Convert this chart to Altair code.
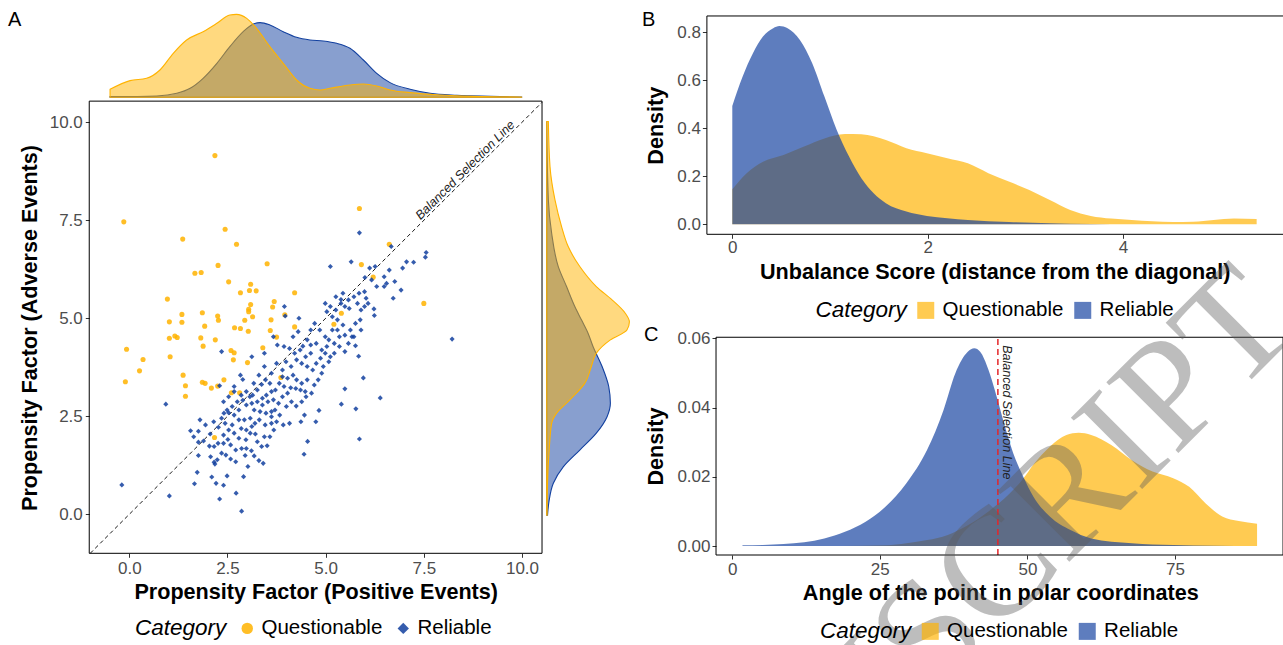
import altair as alt
import pandas as pd

CATS = ["Questionable", "Reliable"]
YEL = "#FFB300"
BLU = "#12409F"
RED = "#E4262A"
FONT = "Liberation Sans"

# ---------------- Panel A : scatter values ----------------
q_x = [2.18, -0.14, 2.44, 1.36, 2.73, 5.86, 6.62, 2.26, 3.51, 1.67, 1.83, 5.91, 6.21, 2.53, 3.09,
       3.06, 3.23, 2.83, 4.21, 0.97, 3.69, 7.50, 3.09, 3.65, 3.04, 3.04, 1.86, 1.34, 3.96, 2.25,
       5.40, 3.14, 2.27, 2.94, 3.61, 1.02, 1.34, 5.21, 1.92, 2.68, 2.83, 4.21, 3.59, 3.03, 3.75,
       1.16, 1.22, 1.02, 1.82, 2.19, 1.88, 3.40, -0.07, 2.59, 2.67, 0.35, 1.04, 2.65, 3.01, 0.26,
       1.37, 3.86, 2.41, -0.10, 1.86, 1.93, 1.43, 2.25, 2.09, 2.60, 2.81, 1.43, 2.17]
q_y = [9.15, 7.46, 7.27, 7.02, 6.89, 7.80, 6.89, 6.35, 6.39, 6.15, 6.17, 6.37, 6.05, 5.93, 5.87,
       5.71, 5.70, 5.65, 5.65, 5.49, 5.43, 5.38, 5.35, 5.29, 5.23, 5.17, 5.14, 5.10, 5.09, 5.06,
       5.13, 5.04, 4.95, 4.95, 4.96, 4.91, 4.90, 4.85, 4.80, 4.76, 4.74, 4.78, 4.69, 4.67, 4.52,
       4.55, 4.51, 4.49, 4.50, 4.45, 4.29, 4.25, 4.21, 4.18, 4.12, 3.95, 4.02, 3.94, 3.87, 3.66,
       3.55, 3.49, 3.43, 3.38, 3.37, 3.34, 3.28, 3.27, 3.22, 3.10, 3.10, 3.01, 1.96]

r_x = [-0.19, 1.02, 0.93, 8.22, 5.86, 6.39, 5.86, 5.77, 5.49, 5.40, 5.96, 5.84, 5.76, 4.45, 4.54,
       4.75, 4.83, 4.46, 4.37, 2.86, 2.30, 2.72, 1.66, 2.10, 2.21, 2.40, 2.49, 2.91, 1.73, 1.76,
       2.07, 2.16, 2.18, 2.24, 2.35, 2.46, 2.58, 2.71, 2.86, 2.95, 3.02, 3.11, 3.18, 3.30, 3.41,
       3.37, 3.51, 3.58, 1.56, 1.76, 1.64, 1.89, 2.04, 2.16, 1.76, 2.06, 2.40, 2.51, 2.67, 2.79,
       2.97, 3.08, 3.21, 2.62, 2.53, 2.44, 2.27, 2.15, 2.35, 2.41, 2.53, 2.67, 2.79, 2.93, 3.08,
       3.20, 3.31, 3.46, 3.62, 3.75, 3.92, 4.08, 3.68, 3.83, 4.00, 4.13, 4.25, 4.39, 4.50, 4.64,
       4.48, 4.36, 4.24, 4.11, 3.94, 3.82, 3.72, 3.58, 3.47, 3.37, 3.26, 3.14, 2.98, 2.85, 2.75,
       2.62, 2.49, 2.79, 2.98, 3.12, 3.26, 3.39, 3.53, 3.67, 3.80, 3.18, 3.33, 3.48, 3.62, 3.07,
       3.17, 3.30, 3.44, 3.62, 3.75, 3.90, 3.99, 4.12, 4.26, 4.39, 4.53, 4.67, 4.76, 4.87, 4.99,
       5.12, 5.22, 4.94, 5.08, 4.62, 4.49, 4.35, 4.21, 4.08, 3.94, 3.77, 3.44, 3.12, 2.35, 2.30,
       2.83, 2.89, 4.17, 4.30, 4.32, 3.95, 4.72, 4.85, 4.99, 5.08, 5.22, 5.35, 5.49, 5.63, 5.76,
       5.88, 5.90, 5.67, 5.44, 5.30, 5.17, 5.03, 4.99, 5.12, 5.26, 5.39, 5.39, 5.49, 5.60, 5.58,
       5.72, 5.85, 5.99, 6.03, 6.08, 5.99, 6.23, 6.24, 6.30, 6.17, 6.49, 6.55, 6.62, 6.76, 6.49,
       6.72, 6.92, 6.96, 7.06, 7.24, 7.56, 7.54, 6.67, 6.26, 6.12, 6.00, 5.65, 5.12, 3.97, 4.62,
       4.53, 4.42, 3.67, 2.89, 2.67, 2.53, 2.40, 2.67, 4.90, 4.81, 4.71, 4.53, 4.39, 4.26, 4.17,
       4.03, 3.90, 3.62, 3.49, 3.39, 3.62, 3.71, 3.90, 4.03, 5.30, 5.17, 5.35, 5.49, 5.58, 5.72,
       4.90, 5.03, 4.76, 4.62, 5.26, 5.44, 5.81, 5.90, 1.94, 1.80, 2.26, 2.40, 2.58, 2.71, 2.98,
       3.26, 3.44, 2.85, 2.98, 3.12]
r_y = [0.75, 0.47, 2.81, 4.47, 7.18, 2.97, 1.92, 2.69, 3.20, 2.81, 3.48, 4.03, 4.30, 1.53, 1.86,
       2.36, 2.65, 2.53, 2.36, 0.08, 0.39, 0.54, 0.78, 0.95, 0.79, 0.74, 0.98, 0.96, 1.07, 1.50,
       1.47, 1.33, 1.28, 1.39, 1.56, 1.51, 1.41, 1.34, 1.68, 1.50, 1.22, 1.62, 1.49, 1.37, 1.30,
       1.73, 1.75, 1.98, 2.13, 2.12, 1.98, 1.87, 1.74, 1.73, 1.84, 2.05, 2.02, 1.91, 2.07, 1.94,
       1.90, 2.07, 2.05, 2.28, 2.15, 2.32, 2.22, 2.36, 2.45, 2.58, 2.59, 2.53, 2.41, 2.41, 2.45,
       2.32, 2.41, 2.28, 2.32, 2.36, 2.28, 2.32, 2.15, 2.53, 2.75, 2.87, 2.76, 2.87, 3.00, 3.09,
       3.13, 3.17, 3.21, 3.23, 3.26, 3.34, 3.17, 3.34, 3.43, 3.31, 3.17, 3.04, 3.13, 3.04, 2.87,
       2.75, 2.66, 2.66, 2.79, 2.83, 2.87, 2.79, 2.87, 2.92, 2.83, 2.66, 2.62, 2.58, 2.62, 3.00,
       3.34, 3.55, 3.77, 3.60, 3.85, 3.68, 3.89, 3.77, 3.94, 3.85, 3.77, 3.68, 3.85, 3.98, 4.11,
       4.02, 4.11, 3.77, 3.89, 4.11, 4.02, 4.19, 4.11, 4.23, 4.28, 4.32, 4.11, 4.02, 4.15, 3.28,
       3.55, 3.44, 4.53, 4.66, 5.00, 5.30, 4.87, 4.70, 4.53, 4.45, 4.36, 4.53, 4.57, 4.70, 4.87,
       4.96, 4.70, 4.53, 4.83, 4.96, 5.04, 5.17, 5.38, 5.30, 5.21, 5.38, 5.48, 5.30, 5.25, 5.47,
       5.55, 5.64, 5.68, 5.51, 5.38, 5.30, 5.24, 5.07, 5.81, 5.98, 6.06, 5.89, 6.23, 5.94, 5.81,
       5.51, 5.72, 6.28, 6.44, 6.43, 6.68, 6.56, 6.83, 6.32, 6.28, 6.04, 6.44, 6.32, 5.06, 4.70,
       4.45, 4.29, 4.53, 2.91, 3.26, 3.00, 2.87, 3.13, 3.60, 3.43, 3.30, 3.43, 3.34, 3.43, 3.55,
       3.47, 3.51, 3.13, 3.04, 2.96, 2.49, 2.66, 3.00, 3.09, 4.70, 4.70, 4.28, 4.15, 4.36, 4.53,
       4.19, 4.28, 4.36, 4.32, 5.55, 5.64, 5.38, 5.21, 2.28, 2.41, 1.81, 1.81, 1.77, 1.64, 1.68,
       1.85, 1.98, 2.19, 2.15, 2.24]

diag_v = [-0.995, 10.51]

# marginal densities (relative height)
top_q_x = [-0.49, 0.02, 0.44, 0.78, 1.12, 1.46, 1.88, 2.23, 2.56, 2.73, 2.99, 3.24, 3.58, 3.92,
           4.26, 4.60, 4.86, 5.11, 5.62, 5.96, 6.30, 6.64, 7.15, 7.91, 8.76, 9.99]
top_q_d = [0.096, 0.20, 0.228, 0.328, 0.528, 0.688, 0.788, 0.888, 0.988, 0.996, 0.948, 0.828,
           0.608, 0.408, 0.208, 0.108, 0.088, 0.108, 0.148, 0.16, 0.136, 0.088, 0.056, 0.028,
           0.012, 0.004]
top_r_x = [-0.49, 0.70, 1.21, 1.55, 1.88, 2.23, 2.56, 2.90, 3.16, 3.33, 3.58, 3.92, 4.26, 4.60,
           4.94, 5.28, 5.62, 5.96, 6.30, 6.64, 7.15, 7.66, 8.34, 9.19, 9.99]
top_r_d = [0.008, 0.016, 0.048, 0.108, 0.228, 0.408, 0.608, 0.788, 0.88, 0.896, 0.868, 0.788,
           0.72, 0.688, 0.676, 0.648, 0.588, 0.448, 0.288, 0.176, 0.096, 0.048, 0.024, 0.012,
           0.004]
rgt_q_y = [10.02, 8.87, 8.02, 7.34, 6.83, 6.32, 5.81, 5.47, 5.13, 4.91, 4.70, 4.45, 4.11, 3.77,
           3.34, 2.92, 2.58, 2.32, 1.64, 0.79, -0.02]
rgt_q_d = [0.02, 0.04, 0.10, 0.18, 0.26, 0.40, 0.60, 0.79, 0.95, 1.0, 0.97, 0.77, 0.60, 0.54,
           0.46, 0.28, 0.12, 0.06, 0.03, 0.01, 0.005]
rgt_r_y = [10.02, 8.02, 7.17, 6.32, 5.81, 5.30, 4.96, 4.62, 4.28, 3.77, 3.26, 2.83, 2.49, 2.07,
           1.64, 1.21, 0.79, 0.36, -0.02]
rgt_r_d = [0.0, 0.02, 0.06, 0.14, 0.24, 0.34, 0.42, 0.50, 0.56, 0.67, 0.75, 0.77, 0.73, 0.60,
           0.40, 0.20, 0.08, 0.03, 0.01]

# ---------------- Panel B : unbalance score densities ----------------
b_r_x = [0, 0.105, 0.21, 0.314, 0.419, 0.482, 0.566, 0.692, 0.818, 0.943, 1.069, 1.195, 1.321,
         1.447, 1.572, 1.782, 1.992, 2.201, 2.411, 2.83, 3.25, 3.669, 4.088, 4.507, 5.367]
b_r_d = [0.493, 0.615, 0.712, 0.782, 0.817, 0.826, 0.817, 0.768, 0.671, 0.532, 0.393, 0.282,
         0.192, 0.129, 0.0875, 0.053, 0.035, 0.025, 0.018, 0.0097, 0.004, 0.0014, 0.0005,
         0.0002, 0.0]
b_q_x = [0, 0.147, 0.314, 0.524, 0.734, 0.943, 1.153, 1.321, 1.572, 1.782, 1.992, 2.201, 2.411,
         2.621, 2.83, 3.04, 3.25, 3.459, 3.669, 3.878, 4.088, 4.298, 4.507, 4.717, 4.927,
         5.136, 5.367]
b_q_d = [0.146, 0.213, 0.261, 0.289, 0.324, 0.358, 0.376, 0.375, 0.351, 0.317, 0.296, 0.275,
         0.254, 0.213, 0.178, 0.143, 0.101, 0.060, 0.035, 0.024, 0.018, 0.0125, 0.0097, 0.011,
         0.018, 0.024, 0.022]

# ---------------- Panel C : angle densities ----------------
c_r_x = [1.74, 5.2, 8.7, 12.2, 15.6, 19.1, 22.6, 26.0, 29.5, 33.0, 35.8, 37.8, 39.9, 41.0, 42.0,
         43.4, 44.8, 46.2, 47.6, 49.3, 51.0, 53.8, 57.3, 60.8, 67.7, 74.7, 81.6, 88.9]
c_r_d = [0.0002, 0.0003, 0.0006, 0.0011, 0.0022, 0.0041, 0.0070, 0.0114, 0.0181, 0.0277,
         0.0393, 0.0499, 0.0561, 0.0571, 0.0561, 0.0509, 0.0431, 0.0345, 0.0268, 0.0200,
         0.0143, 0.0085, 0.0046, 0.0022, 0.0008, 0.0003, 0.0001, 0.0]
c_q_x = [1.74, 15.0, 22.0, 26.0, 29.5, 33.0, 36.5, 39.9, 43.4, 46.9, 49.3, 51.0, 53.8, 56.6,
         58.7, 60.8, 64.2, 67.7, 71.2, 74.7, 77.4, 80.2, 83.0, 85.8, 88.9]
c_q_d = [0.0, 0.0, 0.0001, 0.0002, 0.0008, 0.0017, 0.0032, 0.0060, 0.0100, 0.0150, 0.0195,
         0.0235, 0.0287, 0.0321, 0.0327, 0.0321, 0.0292, 0.0248, 0.0215, 0.0196, 0.0171,
         0.0123, 0.0085, 0.0072, 0.0064]
c_line_at = 45

# ---------------- helpers ----------------
def sc(domain, rng):
    return alt.Scale(domain=domain, range=rng, nice=False, zero=False)

A_X = ([0, 10], [129.3, 522.0])
A_Y = ([0, 10], [514.3, 122.3])
TM_Y = ([0, 1], [97.3, 14.0])
RM_X = ([0, 1], [546.7, 629.4])
B_X = ([0, 4], [732.3, 1123.1])
B_Y = ([0, 0.8], [224.3, 32.3])
C_X = ([0, 75], [732.2, 1175.0])
C_Y = ([0, 0.06], [546.0, 338.3])
H = 645

def axis(orient, offset, values, fmt, title, lab_pad, title_pos, title_mid):
    common = dict(orient=orient, offset=offset, values=values, format=fmt, title=title,
                  domain=False, grid=False, tickSize=4, tickColor="#333333", tickWidth=1,
                  labelFont=FONT, labelFontSize=17, labelColor="#4D4D4D", labelPadding=lab_pad,
                  labelFlush=False, labelOverlap=False,
                  titleFont=FONT, titleFontSize=21.6, titleFontWeight="bold", titleColor="black",
                  titleBaseline="alphabetic", titleAlign="center")
    if orient == "bottom":
        common.update(labelBaseline="alphabetic", titleY=title_pos, titleX=title_mid)
    else:
        common.update(titleAngle=270, titleX=title_pos, titleY=title_mid)
    return alt.Axis(**common)

def legend(x, y, sym_type, sym_size, lab_off, col_pad, t_pad):
    kw = dict(orient="none", legendX=x, legendY=y, direction="horizontal", titleOrient="left",
              title="Category", titleFont=FONT, titleFontSize=22.5, titleFontStyle="italic",
              titleFontWeight="normal", titleColor="black", titleBaseline="middle",
              labelFont=FONT, labelFontSize=20.5, labelColor="black",
              symbolSize=sym_size, labelOffset=lab_off, columnPadding=col_pad,
              titlePadding=t_pad, symbolStrokeWidth=0)
    if sym_type:
        kw["symbolType"] = sym_type
    return alt.Legend(**kw)

def frame(xs, ys, x0, x1, y0, y1):
    return alt.Chart(pd.DataFrame({"k": [0]})).mark_rect(
        fillOpacity=0, stroke="black", strokeWidth=1).encode(
        x=alt.datum(x0, scale=sc(*xs), axis=None), x2=alt.datum(x1),
        y=alt.datum(y0, scale=sc(*ys), axis=None), y2=alt.datum(y1))

layers = []

# ---------------- marginals ----------------
def marg_top(xs, ds, col):
    return alt.Chart(pd.DataFrame({"x": xs, "d": ds})).mark_area(
        fill=col, fillOpacity=0.5, stroke=col, strokeWidth=1.1, interpolate="monotone").encode(
        x=alt.X("x:Q", scale=sc(*A_X), axis=None),
        y=alt.Y("d:Q", scale=sc(*TM_Y), axis=None, stack=None))

def marg_right(ys, ds, col):
    return alt.Chart(pd.DataFrame({"y": ys, "d": ds})).mark_area(
        fill=col, fillOpacity=0.5, stroke=col, strokeWidth=1.1, interpolate="monotone",
        orient="horizontal").encode(
        y=alt.Y("y:Q", scale=sc(*A_Y), axis=None),
        x=alt.X("d:Q", scale=sc(*RM_X), axis=None, stack=None))

layers += [marg_top(top_r_x, top_r_d, BLU), marg_top(top_q_x, top_q_d, YEL),
           marg_right(rgt_r_y, rgt_r_d, BLU), marg_right(rgt_q_y, rgt_q_d, YEL)]

# ---------------- Panel A ----------------
scat_df = pd.DataFrame({"x": q_x + r_x, "y": q_y + r_y,
                        "Category": ["Questionable"] * len(q_x) + ["Reliable"] * len(r_x)})
legA = legend(135, 618, None, 130, 4, 10, 10)
scatter = alt.Chart(scat_df).mark_point(filled=True, size=26, opacity=0.85).encode(
    x=alt.X("x:Q", scale=sc(*A_X),
            axis=axis("bottom", 553.3 - H, [0, 2.5, 5, 7.5, 10], ".1f",
                      "Propensity Factor (Positive Events)", 16, 45.6, 315.7)),
    y=alt.Y("y:Q", scale=sc(*A_Y),
            axis=axis("left", -89.3, [0, 2.5, 5, 7.5, 10], ".1f",
                      "Propensity Factor (Adverse Events)", 3, -52.7, 327.5)),
    color=alt.Color("Category:N", scale=alt.Scale(domain=CATS, range=[YEL, BLU]), legend=legA),
    shape=alt.Shape("Category:N", scale=alt.Scale(domain=CATS, range=["circle", "diamond"]),
                    legend=legA),
)
diag = alt.Chart(pd.DataFrame({"x": diag_v, "y": diag_v})).mark_line(
    color="black", strokeDash=[4, 3], strokeWidth=0.9).encode(
    x=alt.X("x:Q", scale=sc(*A_X), axis=None), y=alt.Y("y:Q", scale=sc(*A_Y), axis=None))
diag_txt = alt.Chart(pd.DataFrame({"k": [0]})).mark_text(
    text="Balanced Selection Line", angle=315, font=FONT, fontSize=12.5, fontStyle="italic",
    color="#222222").encode(
    x=alt.datum(8.55, scale=sc(*A_X), axis=None), y=alt.datum(8.78, scale=sc(*A_Y), axis=None))
layers += [frame(A_X, A_Y, -1.02, 10.51, -0.995, 10.54), diag, scatter, diag_txt]

# ---------------- Panel B / C densities ----------------
def dens(xs, ds, cat, xs_sc, ys_sc, ax_x, ax_y, leg):
    return alt.Chart(pd.DataFrame({"x": xs, "d": ds, "Category": cat})).mark_area(
        opacity=0.68, interpolate="monotone").encode(
        x=alt.X("x:Q", scale=sc(*xs_sc), axis=ax_x),
        y=alt.Y("d:Q", scale=sc(*ys_sc), axis=ax_y, stack=None),
        color=alt.Color("Category:N", scale=alt.Scale(domain=CATS, range=[YEL, BLU]),
                        legend=leg))

legB = legend(815.5, 300, "square", 289, 6.6, 9, 8)
axB_x = axis("bottom", 234.3 - H, [0, 2, 4], "d",
             "Unbalance Score (distance from the diagonal)", 14, 44.6, 994.7)
axB_y = axis("left", -706.4, [0, 0.2, 0.4, 0.6, 0.8], ".1f", "Density", 2, -43.8, 125.2)
layers += [
    dens(b_q_x, b_q_d, "Questionable", B_X, B_Y, axB_x, axB_y, None),
    dens(b_r_x, b_r_d, "Reliable", B_X, B_Y, None, None, legB),
    frame(B_X, B_Y, -0.26, 5.642, -0.0417, 0.868),
]

legC = legend(820, 621, "square", 289, 6.6, 9, 8)
axC_x = axis("bottom", 555 - H, [0, 25, 50, 75], "d",
             "Angle of the point in polar coordinates", 15.3, 44, 1000.3)
axC_y = axis("left", -716, [0, 0.02, 0.04, 0.06], ".2f", "Density", 2, -53.4, 446)
c_rule = alt.Chart(pd.DataFrame({"k": [0]})).mark_rule(
    color=RED, strokeDash=[6, 4], strokeWidth=1.5).encode(
    x=alt.datum(c_line_at, scale=sc(*C_X), axis=None),
    y=alt.datum(-0.0026, scale=sc(*C_Y), axis=None), y2=alt.datum(0.0603))
c_txt = alt.Chart(pd.DataFrame({"k": [0]})).mark_text(
    text="Balanced Selection Line", angle=90, align="left", baseline="bottom", font=FONT,
    fontSize=12.5, fontStyle="italic", color="#222222", dy=-2).encode(
    x=alt.datum(c_line_at, scale=sc(*C_X), axis=None),
    y=alt.datum(0.058, scale=sc(*C_Y), axis=None))
layers += [
    dens(c_q_x, c_q_d, "Questionable", C_X, C_Y, axC_x, axC_y, None),
    dens(c_r_x, c_r_d, "Reliable", C_X, C_Y, None, None, legC),
    c_rule, c_txt,
    frame(C_X, C_Y, -2.74, 93.3, -0.0026, 0.0603),
]

# ---------------- labels & watermark ----------------
def label(t, x, y):
    return alt.Chart(pd.DataFrame({"t": [t]})).mark_text(
        font=FONT, fontSize=20, align="left", baseline="alphabetic", color="black").encode(
        text="t:N", x=alt.value(x), y=alt.value(y))

wm = alt.Chart(pd.DataFrame({"t": ["MANUSCRIPT"]})).mark_text(
    font="Liberation Serif", fontSize=154, angle=315, align="center", baseline="middle",
    color="#5C5C5C", opacity=0.4).encode(text="t:N", x=alt.value(918), y=alt.value(648))

layers += [label("A", 8, 26), label("B", 642, 26), label("C", 644, 341), wm]

chart = alt.layer(*layers).resolve_scale(
    x="independent", y="independent", color="independent", shape="independent"
).properties(
    width=1283, height=645, padding=0, autosize=alt.AutoSizeParams(type="none")
).configure_view(stroke=None)

chart.save("out.html", embed_options={"renderer": "svg", "actions": False})
